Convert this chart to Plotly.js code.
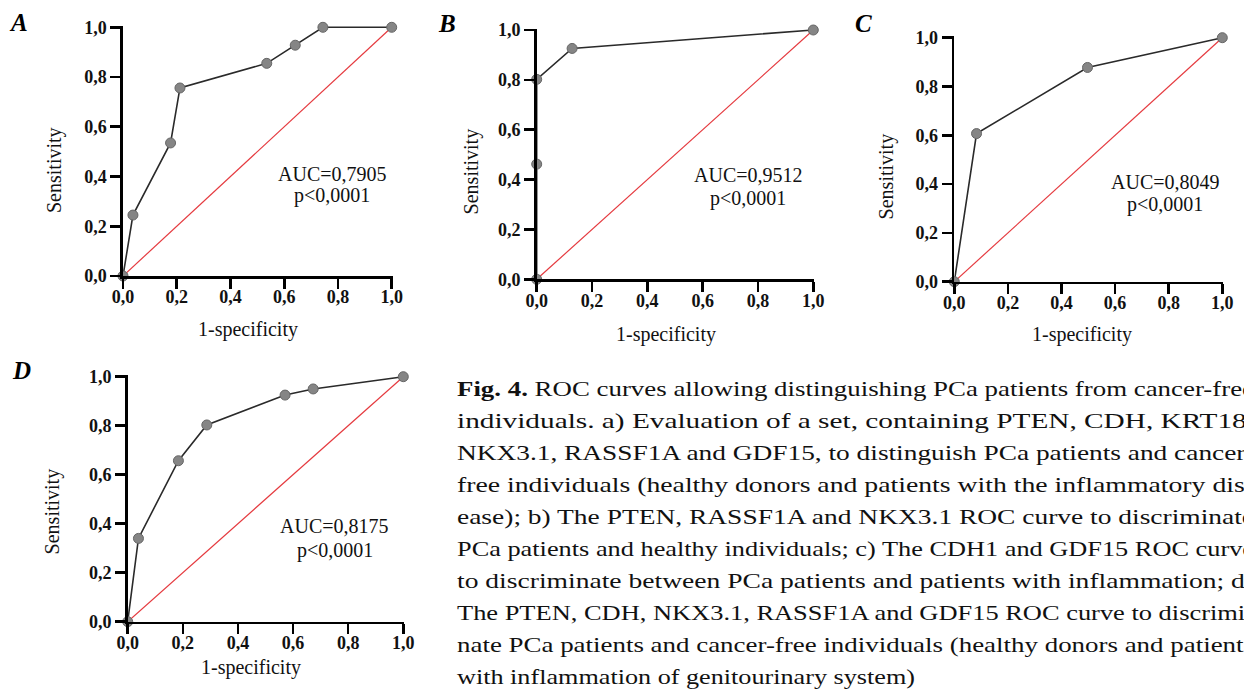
<!DOCTYPE html>
<html>
<head>
<meta charset="utf-8">
<script src="https://cdn.plot.ly/plotly-3.0.1.min.js"></script>
<style>html,body{margin:0;padding:0;background:#fff;}#chart{width:1244px;height:695px;}</style>
</head>
<body>
<div id="chart"></div>
<script>
// ---- data ----
const panelLetters = ["A", "B", "C", "D"];
const fprA = [0, 0.037, 0.177, 0.212, 0.535, 0.641, 0.744, 1.0];
const tprA = [0, 0.245, 0.535, 0.756, 0.855, 0.928, 1.0, 1.0];
const fprB = [0, 0, 0, 0.128, 1.0];
const tprB = [0, 0.462, 0.802, 0.926, 1.0];
const fprC = [0, 0.083, 0.497, 1.0];
const tprC = [0, 0.607, 0.878, 1.0];
const fprD = [0, 0.039, 0.184, 0.287, 0.571, 0.673, 1.0];
const tprD = [0, 0.340, 0.657, 0.803, 0.925, 0.950, 1.0];
const chanceX = [0, 1];
const chanceY = [0, 1];
const aucLabels = ["AUC=0,7905", "AUC=0,9512", "AUC=0,8049", "AUC=0,8175"];
const pLabel = "p&lt;0,0001";
const tickVals = [0, 0.2, 0.4, 0.6, 0.8, 1.0];
const tickText = ["0,0", "0,2", "0,4", "0,6", "0,8", "1,0"];
const xTitle = "1-specificity";
const yTitle = "Sensitivity";
const captionLines = [
  "<b>Fig. 4.</b> ROC curves allowing distinguishing PCa patients from cancer-free",
  "individuals. a) Evaluation of a set, containing PTEN, CDH, KRT18,",
  "NKX3.1, RASSF1A and GDF15, to distinguish PCa patients and cancer-",
  "free individuals (healthy donors and patients with the inflammatory dis-",
  "ease); b) The PTEN, RASSF1A and NKX3.1 ROC curve to discriminate",
  "PCa patients and healthy individuals; c) The CDH1 and GDF15 ROC curve",
  "to discriminate between PCa patients and patients with inflammation; d)",
  "The PTEN, CDH, NKX3.1, RASSF1A and GDF15 ROC curve to discrimi-",
  "nate PCa patients and cancer-free individuals (healthy donors and patients",
  "with inflammation of genitourinary system)"
];

// ---- layout geometry (pixels) ----
const W = 1244, H = 695;
const FONT = "'Liberation Serif', 'Times New Roman', Times, serif";
const series = [[fprA, tprA], [fprB, tprB], [fprC, tprC], [fprD, tprD]];
const geo = [
  {x0: 123,   x1: 391.7,  y0: 276,   y1: 27.3,  letter: [18, 23],      auc: [332, 174, 195],    yt: [54, 170],      xt: [248, 330]},
  {x0: 536.7, x1: 813.3,  y0: 279.3, y1: 30,    letter: [446.5, 23.5], auc: [748, 175, 199],    yt: [471.7, 171.7], xt: [666, 334]},
  {x0: 954.3, x1: 1222.3, y0: 281.7, y1: 37.7,  letter: [863.5, 23.5], auc: [1165, 181.7, 205], yt: [886.7, 176.7], xt: [1082, 334]},
  {x0: 127.7, x1: 403.3,  y0: 621.7, y1: 376.7, letter: [21, 370],     auc: [335, 526, 550],    yt: [52.7, 511.7],  xt: [251, 667]}
];
const XR = [0, 1.004], YR = [0, 1.006];
const px = p => p / W, py = p => 1 - p / H;

const traces = [];
const layout = {
  width: W, height: H, margin: {l: 0, r: 0, t: 0, b: 0},
  paper_bgcolor: "#fff", plot_bgcolor: "rgba(0,0,0,0)",
  showlegend: false, font: {family: FONT, color: "#000"},
  annotations: []
};

geo.forEach((g, i) => {
  const n = i + 1;
  const xa = "x" + (n === 1 ? "" : n), ya = "y" + (n === 1 ? "" : n);
  const xk = "xaxis" + (n === 1 ? "" : n), yk = "yaxis" + (n === 1 ? "" : n);
  const dx0 = px(g.x0), dx1 = px(g.x0 + (g.x1 - g.x0) * XR[1]);
  const dy0 = py(g.y0), dy1 = py(g.y0 - (g.y0 - g.y1) * YR[1]);
  const axBase = {
    showgrid: false, zeroline: false, showline: true, linecolor: "#000", linewidth: 2.6,
    ticks: "outside", ticklen: 10, tickwidth: 2.6, tickcolor: "#000",
    tickvals: tickVals, ticktext: tickText,
    tickfont: {family: FONT, size: 18, weight: "bold", color: "#111"},
    fixedrange: true
  };
  layout[xk] = Object.assign({}, axBase, {domain: [dx0, dx1], range: XR, anchor: ya, ticklabelstandoff: -7});
  layout[yk] = Object.assign({}, axBase, {domain: [dy0, dy1], range: YR, anchor: xa});

  traces.push({x: chanceX, y: chanceY, xaxis: xa, yaxis: ya, mode: "lines",
    line: {color: "#e53a3f", width: 1.2}, hoverinfo: "skip", cliponaxis: false});
  traces.push({x: series[i][0], y: series[i][1], xaxis: xa, yaxis: ya, mode: "lines+markers",
    line: {color: "#2a2a2a", width: 1.6},
    marker: {size: 10, color: "#858585", line: {color: "#666", width: 1}},
    cliponaxis: false});

  layout.annotations.push(
    {xref: "paper", yref: "paper", x: px(g.letter[0]), y: py(g.letter[1]), text: "<b><i>" + panelLetters[i] + "</i></b>",
     showarrow: false, xanchor: "center", yanchor: "middle", font: {family: FONT, size: 25, color: "#000"}},
    {xref: "paper", yref: "paper", x: px(g.auc[0]), y: py(g.auc[1]), text: aucLabels[i],
     showarrow: false, xanchor: "center", yanchor: "middle", font: {family: FONT, size: 20, color: "#111"}},
    {xref: "paper", yref: "paper", x: px(g.auc[0]), y: py(g.auc[2]), text: pLabel,
     showarrow: false, xanchor: "center", yanchor: "middle", font: {family: FONT, size: 20, color: "#111"}},
    {xref: "paper", yref: "paper", x: px(g.yt[0]), y: py(g.yt[1]), text: yTitle, textangle: -90,
     showarrow: false, xanchor: "center", yanchor: "middle", font: {family: FONT, size: 20, color: "#111"}},
    {xref: "paper", yref: "paper", x: px(g.xt[0]), y: py(g.xt[1]), text: xTitle,
     showarrow: false, xanchor: "center", yanchor: "middle", font: {family: FONT, size: 20, color: "#111"}}
  );
});

// caption
const capLeft = 455, capTop = 388.3, capStep = 32.04;
const capWidths = [];
captionLines.forEach((t, k) => {
  capWidths.push(k === captionLines.length - 1 ? 458 : 797);
  layout.annotations.push({xref: "paper", yref: "paper", x: px(capLeft), y: py(capTop + k * capStep),
    text: t, showarrow: false, xanchor: "left", yanchor: "middle", align: "left",
    font: {family: FONT, size: 22, color: "#111"}});
});

Plotly.newPlot("chart", traces, layout, {staticPlot: true, displayModeBar: false}).then(() => {
  const nodes = document.querySelectorAll("#chart .annotation-text");
  const startIdx = nodes.length - captionLines.length;
  captionLines.forEach((t, k) => {
    const el = nodes[startIdx + k];
    if (!el) return;
    el.setAttribute("textLength", capWidths[k]);
    el.setAttribute("lengthAdjust", "spacingAndGlyphs");
  });
});
</script>
</body>
</html>
